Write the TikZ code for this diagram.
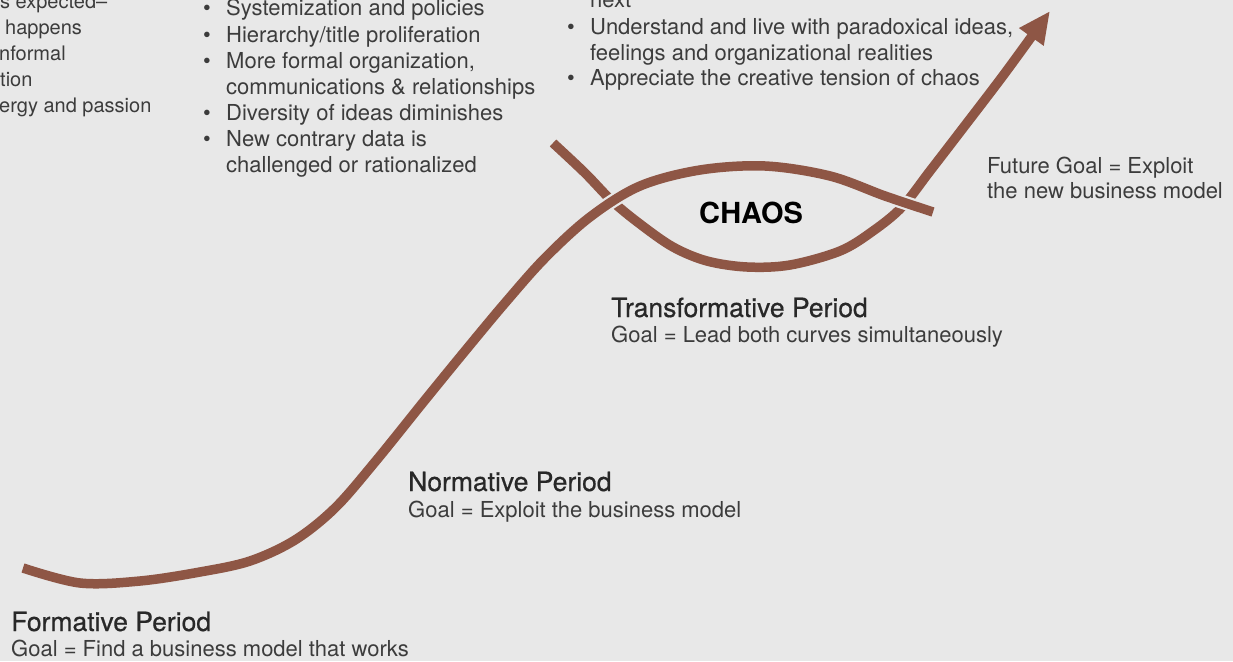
\documentclass[tikz,border=0pt]{standalone}
\usepackage{fontspec}
\setmainfont{TeX Gyre Heros}
\newfontfamily\headfont[FakeBold=0.6]{TeX Gyre Heros}
\usetikzlibrary{arrows.meta}
\definecolor{bgc}{RGB}{232,232,232}
\definecolor{curvec}{RGB}{142,86,69}
\definecolor{txtc}{RGB}{60,60,60}
\definecolor{headc}{RGB}{40,40,40}
\begin{document}
\begin{tikzpicture}[x=1pt,y=-1pt,
  body/.style={anchor=base west, inner sep=0pt, text=txtc, font=\fontsize{22}{26}\selectfont},
  smalltxt/.style={body, font=\fontsize{20}{24}\selectfont},
  headtxt/.style={anchor=base west, inner sep=0pt, text=headc, font=\headfont\fontsize{26.5}{30}\selectfont},
  chaostxt/.style={anchor=base west, inner sep=0pt, text=black, font=\bfseries\fontsize{29}{32}\selectfont},
  curve/.style={line width=9.5pt, draw=curvec},
  gapline/.style={line width=14pt, draw=bgc}]
\useasboundingbox (0,0) rectangle (1233,661);
\fill[bgc] (0,0) rectangle (1233,661);
\clip (0,0) rectangle (1233,661);

% left column (cut off)
\node[smalltxt] (l1) at (0,9) {s expected–};
\node[smalltxt] (l2) at (5,35) {happens};
\node[smalltxt] (l3) at (-1,60) {nformal};
\node[smalltxt] (l4) at (0,86) {tion};
\node[smalltxt] (l5) at (-1,112) {ergy and passion};

% middle column
\node[body] (mb1) at (203,16) {•};
\node[body] (m1) at (226,16) {Systemization and policies};
\node[body] (mb2) at (203,42) {•};
\node[body] (m2) at (226,42) {Hierarchy/title proliferation};
\node[body] (mb3) at (203,68) {•};
\node[body] (m3) at (226,68) {More formal organization,};
\node[body] (m3b) at (226,94) {communications \& relationships};
\node[body] (mb4) at (203,120) {•};
\node[body] (m4) at (226,120) {Diversity of ideas diminishes};
\node[body] (mb5) at (203,146) {•};
\node[body] (m5) at (226,146) {New contrary data is};
\node[body] (m5b) at (226,172) {challenged or rationalized};

% right column
\node[body] (r0) at (590,8) {next};
\node[body] (rb1) at (567,35) {•};
\node[body] (r1) at (590,35) {Understand and live with paradoxical ideas,};
\node[body] (r1b) at (590,60) {feelings and organizational realities};
\node[body] (rb2) at (567,85) {•};
\node[body] (r2) at (590,85) {Appreciate the creative tension of chaos};

% future goal
\node[body] (f1) at (987,173) {Future Goal = Exploit};
\node[body] (f2) at (987,198) {the new business model};

% periods
\node[headtxt] (tp) at (611,317) {Transformative Period};
\node[body] (tg) at (611,342) {Goal = Lead both curves simultaneously};
\node[headtxt] (np) at (408,491) {Normative Period};
\node[body] (ng) at (408,517) {Goal = Exploit the business model};
\node[headtxt] (fp) at (11,631) {Formative Period};
\node[body] (fg) at (11,656) {Goal = Find a business model that works};

\node[chaostxt] (chaos) at (699,223) {CHAOS};

% new curve with arrow
\draw[curve, -{Triangle[length=32pt,width=28pt]}] plot[smooth, tension=0.55] coordinates {
  (553,143) (585,173) (612,201) (640,224) (673,247) (707,261) (747,267)
  (790,265) (840,251) (873,231) (902,207) (930,171) (960,132) (1005,73) (1050,11)};

% main S-curve (on top, with a gap border)
\def\mainpts{(23,568) (80,583) (140,581) (200,572) (250,561) (295,540)
  (335,508) (375,462) (425,400) (465,351) (505,303) (545,258) (590,217)
  (640,186) (700,170) (765,166) (830,176) (885,196) (933,212)}
\draw[gapline] plot[smooth, tension=0.55] coordinates {\mainpts};
\draw[curve] plot[smooth, tension=0.55] coordinates {\mainpts};
\end{tikzpicture}
\end{document}
